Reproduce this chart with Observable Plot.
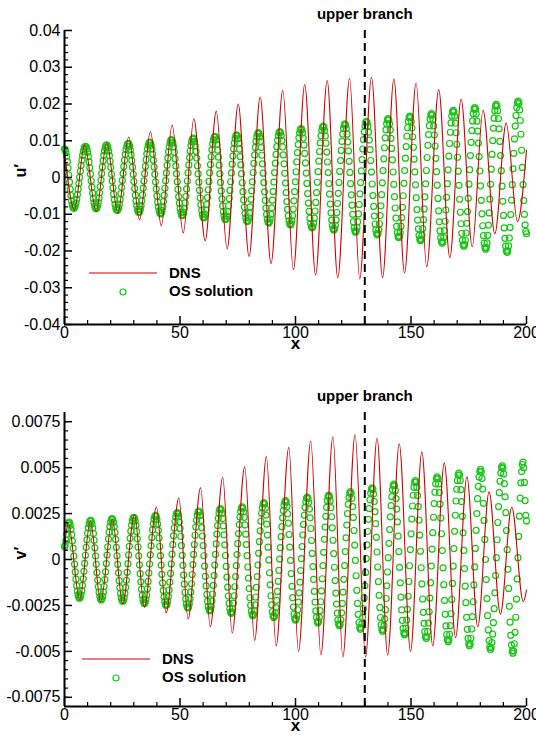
<!DOCTYPE html>
<html><head><meta charset="utf-8">
<script src="https://cdn.jsdelivr.net/npm/d3@7"></script>
<script src="https://cdn.jsdelivr.net/npm/@observablehq/plot@0.6"></script>
<style>
body{margin:0;background:#fff;}
#wrap{position:relative;width:536px;height:735px;overflow:hidden;background:#fff}
#wrap svg{display:block}
#legend{position:absolute;left:0;top:0;pointer-events:none}
</style></head><body><div id="wrap"></div>
<script>
// ---------- data ----------
const xTicks = [0, 50, 100, 150, 200];
const xMinorTicks = [10, 20, 30, 40, 60, 70, 80, 90, 110, 120, 130, 140, 160, 170, 180, 190];
const upperBranchX = 130;

// top panel u'
const uTicks = [-0.04, -0.03, -0.02, -0.01, 0, 0.01, 0.02, 0.03, 0.04];
const uMinorTicks = [-0.038, -0.036, -0.034, -0.032, -0.028, -0.026, -0.024, -0.022, -0.018, -0.016, -0.014, -0.012,
  -0.008, -0.006, -0.004, -0.002, 0.002, 0.004, 0.006, 0.008, 0.012, 0.014, 0.016, 0.018,
  0.022, 0.024, 0.026, 0.028, 0.032, 0.034, 0.036, 0.038];
// DNS u' : start, alternating troughs/crests, end
const dnsUx = [0, 4.3, 8.7, 13.7, 18.3, 23.1, 27.8, 32.5, 37.2, 41.9, 46.6, 51.4, 56.0, 60.9, 65.7, 70.4, 75.2, 79.9, 84.7, 89.4,
  94.5, 99.1, 104.0, 108.7, 113.7, 118.3, 123.4, 127.8, 132.9, 137.7, 142.6, 147.2, 152.2, 156.8, 162.0, 166.8, 171.7,
  176.5, 181.2, 186.3, 191.2, 196.1, 200];
const dnsUy = [0.0072, -0.0088, 0.0088, -0.0092, 0.0094, -0.0097, 0.0110, -0.0115, 0.0125, -0.0131, 0.0142, -0.0151, 0.0160,
  -0.0172, 0.0180, -0.0194, 0.0200, -0.0215, 0.0219, -0.0234, 0.0237, -0.0251, 0.0253, -0.0265, 0.0264, -0.0273, 0.0270,
  -0.0276, 0.0272, -0.0272, 0.0268, -0.0260, 0.0257, -0.0243, 0.0239, -0.0218, 0.0213, -0.0188, 0.0183, -0.0153, 0.0148,
  -0.0120, 0.0075];
// OS solution u'
const osUx = [0, 4.0, 9.1, 13.7, 18.2, 22.8, 27.6, 32.2, 36.9, 41.6, 46.3, 51.0, 55.7, 60.3, 65.1, 69.7, 74.5, 79.1, 83.9,
  88.4, 93.2, 97.8, 102.4, 107.2, 112.0, 116.6, 121.4, 126.0, 130.7, 135.4, 140.1, 144.7, 149.5, 154.1, 158.9, 163.5,
  168.3, 172.9, 177.6, 182.3, 186.9, 191.6, 196.4, 200];
const osUy = [0.0078, -0.0084, 0.0085, -0.0085, 0.0089, -0.0090, 0.0093, -0.0095, 0.0096, -0.0099, 0.0103, -0.0104, 0.0107,
  -0.0110, 0.0112, -0.0115, 0.0116, -0.0120, 0.0122, -0.0124, 0.0125, -0.0129, 0.0133, -0.0137, 0.0140, -0.0143, 0.0146,
  -0.0149, 0.0153, -0.0156, 0.0160, -0.0164, 0.0167, -0.0172, 0.0174, -0.0179, 0.0183, -0.0187, 0.0190, -0.0195, 0.0199,
  -0.0204, 0.0208, -0.0153];

// bottom panel v'
const vTicks = [-0.0075, -0.005, -0.0025, 0, 0.0025, 0.005, 0.0075];
const vMinorTicks = [-0.0075, -0.007, -0.0065, -0.006, -0.0055, -0.0045, -0.004, -0.0035, -0.003, -0.002, -0.0015, -0.001,
  -0.0005, 0.0005, 0.001, 0.0015, 0.002, 0.003, 0.0035, 0.004, 0.0045, 0.0055, 0.006, 0.0065, 0.007, 0.0075];
const dnsVx = [0, 1.6, 6.6, 11.2, 15.7, 20.7, 25.2, 30.3, 34.6, 39.8, 44.0, 49.5, 53.5, 58.9, 63.1, 68.5, 72.6, 78.0, 82.3,
  87.4, 91.6, 97.1, 101.3, 106.6, 111.0, 116.2, 120.5, 125.8, 130.3, 135.3, 139.9, 144.9, 149.8, 154.7, 159.4, 164.4,
  169.3, 174.2, 178.9, 183.8, 188.7, 193.6, 198.6, 200];
const dnsVy = [0.0006, 0.0020, -0.0022, 0.0021, -0.0023, 0.0022, -0.0024, 0.00245, -0.0026, 0.00286, -0.0029, 0.00335,
  -0.00324, 0.0039, -0.00366, 0.00446, -0.0040, 0.00504, -0.0044, 0.0056, -0.0047, 0.0061, -0.0050, 0.00645, -0.0052,
  0.00668, -0.0053, 0.00678, -0.0053, 0.0066, -0.0052, 0.0063, -0.0050, 0.00586, -0.0047, 0.00526, -0.00425, 0.0045,
  -0.00366, 0.00368, -0.00297, 0.00286, -0.0023, -0.00166];
const osVx = [0, 1.9, 6.5, 11.3, 15.9, 20.6, 25.2, 30.0, 34.6, 39.4, 44.0, 48.8, 53.4, 58.1, 62.9, 67.5, 72.2, 76.9, 81.5,
  86.3, 90.6, 95.7, 100.0, 105.1, 109.7, 114.4, 119.0, 123.8, 128.1, 133.2, 137.7, 142.6, 147.2, 151.9, 156.6, 161.3,
  166.1, 170.7, 175.3, 180.1, 184.4, 189.5, 194.1, 198.5, 200];
const osVy = [0.0007, 0.00204, -0.00211, 0.00213, -0.0022, 0.00222, -0.00228, 0.0023, -0.00239, 0.0024, -0.0025, 0.00255,
  -0.00264, 0.00264, -0.0028, 0.00277, -0.00293, 0.00286, -0.00306, 0.0031, -0.00315, 0.0032, -0.0033, 0.0034, -0.00345,
  0.0035, -0.0036, 0.0037, -0.0038, 0.0039, -0.0039, 0.0041, -0.0041, 0.0043, -0.0043, 0.0045, -0.00447, 0.0047,
  -0.0047, 0.0049, -0.0049, 0.0051, -0.0051, 0.0053, 0.0021];

// ---------- drawing ----------
const FONT = '"Liberation Sans", Arial, Helvetica, sans-serif';
const RED = "#d20000";
const GREEN = "#14c814";
const W = 536, ML = 64, MR = 10;

// OS symbols: placed along the OS curve between its read extrema (one symbol every ~0.31 in x)
function symbolsAlong(xs, ys, step) {
  const pts = [];
  for (let i = 0; i < xs.length - 1; i++) {
    const x0 = xs[i], x1 = xs[i + 1], y0 = ys[i], y1 = ys[i + 1];
    const n = Math.max(1, Math.round((x1 - x0) / step));
    for (let k = 0; k < n; k++) {
      const t = k / n;
      const s = (1 - Math.cos(Math.PI * t)) / 2;
      pts.push({x: x0 + t * (x1 - x0), y: y0 + s * (y1 - y0)});
    }
  }
  pts.push({x: xs[xs.length - 1], y: ys[ys.length - 1]});
  return pts;
}

const fmt = d => d === 0 ? "0" : String(d);

function panel({height, marginTop, marginBottom, yDomain, yTicks, yMinor, yLabel, dnsX, dnsY, osX, osY}) {
  const dns = dnsX.map((x, i) => ({x, y: dnsY[i]}));
  const os = symbolsAlong(osX, osY, 0.31);
  const fw = W - ML - MR, fh = height - marginTop - marginBottom;
  return Plot.plot({
    width: W, height, marginLeft: ML, marginRight: MR, marginTop, marginBottom,
    style: {fontFamily: FONT, fontSize: "16px", color: "#000", background: "#fff", overflow: "visible"},
    x: {domain: [0, 200]},
    y: {domain: yDomain},
    marks: [
      Plot.dot(os, {x: "x", y: "y", r: 3, stroke: GREEN, strokeWidth: 1.2, fill: "none"}),
      Plot.line(dns, {x: "x", y: "y", curve: "monotone-x", stroke: RED, strokeWidth: 1.1}),
      Plot.ruleX([upperBranchX], {x: d => d, stroke: "#000", strokeWidth: 2, strokeDasharray: "8,5"}),
      Plot.text([upperBranchX], {x: d => d, frameAnchor: "top", dy: -22, text: () => "upper branch",
        fontWeight: "bold", fontSize: 15, fill: "#000"}),
      Plot.tickY(yTicks, {y: d => d, insetRight: fw - 8, stroke: "#000", strokeWidth: 1.5}),
      Plot.tickY(yMinor, {y: d => d, insetRight: fw - 4, stroke: "#000", strokeWidth: 1.2}),
      Plot.tickX(xTicks, {x: d => d, insetTop: fh - 8, stroke: "#000", strokeWidth: 1.5}),
      Plot.tickX(xMinorTicks, {x: d => d, insetTop: fh - 4, stroke: "#000", strokeWidth: 1.2}),
      Plot.axisY(yTicks, {tickSize: 0, tickPadding: 4, tickFormat: fmt, label: null}),
      Plot.axisX(xTicks, {tickSize: 0, tickPadding: 2, tickFormat: d => String(d), label: null}),
      Plot.ruleX([0], {stroke: "#000", strokeWidth: 2}),
      Plot.ruleY([yDomain[0]], {stroke: "#000", strokeWidth: 2}),
      Plot.text([yLabel], {frameAnchor: "left", dx: -44, rotate: -90, text: d => d, fontWeight: "bold", fontSize: 16, fill: "#000"}),
      Plot.text(["x"], {frameAnchor: "bottom", dy: 24, text: d => d, fontWeight: "bold", fontSize: 17, fill: "#000"})
    ]
  });
}

const wrap = document.getElementById("wrap");
wrap.appendChild(panel({height: 362, marginTop: 30, marginBottom: 38, yDomain: [-0.04, 0.04],
  yTicks: uTicks, yMinor: uMinorTicks, yLabel: "u\u2032", dnsX: dnsUx, dnsY: dnsUy, osX: osUx, osY: osUy}));
wrap.appendChild(panel({height: 373, marginTop: 50, marginBottom: 29, yDomain: [-0.008, 0.008],
  yTicks: vTicks, yMinor: vMinorTicks, yLabel: "v\u2032", dnsX: dnsVx, dnsY: dnsVy, osX: osVx, osY: osVy}));

// legends
const legendItems = [
  {lineX: [89, 157], lineY: 273, textX: 169, dnsY: 273, circ: [123, 292], osY: 291},
  {lineX: [82, 150], lineY: 659, textX: 162, dnsY: 659, circ: [116, 678], osY: 677}
];
const lg = d3.select(wrap).append("svg").attr("id", "legend").attr("width", 536).attr("height", 735)
  .style("font-family", FONT);
for (const L of legendItems) {
  lg.append("line").attr("x1", L.lineX[0]).attr("x2", L.lineX[1]).attr("y1", L.lineY).attr("y2", L.lineY)
    .attr("stroke", RED).attr("stroke-width", 1.1);
  lg.append("text").attr("x", L.textX).attr("y", L.dnsY).attr("dy", "0.35em").attr("font-size", 15)
    .attr("font-weight", "bold").text("DNS");
  lg.append("circle").attr("cx", L.circ[0]).attr("cy", L.circ[1]).attr("r", 3).attr("fill", "none")
    .attr("stroke", GREEN).attr("stroke-width", 1.2);
  lg.append("text").attr("x", L.textX).attr("y", L.osY).attr("dy", "0.35em").attr("font-size", 15)
    .attr("font-weight", "bold").text("OS solution");
}
</script>
</body></html>
